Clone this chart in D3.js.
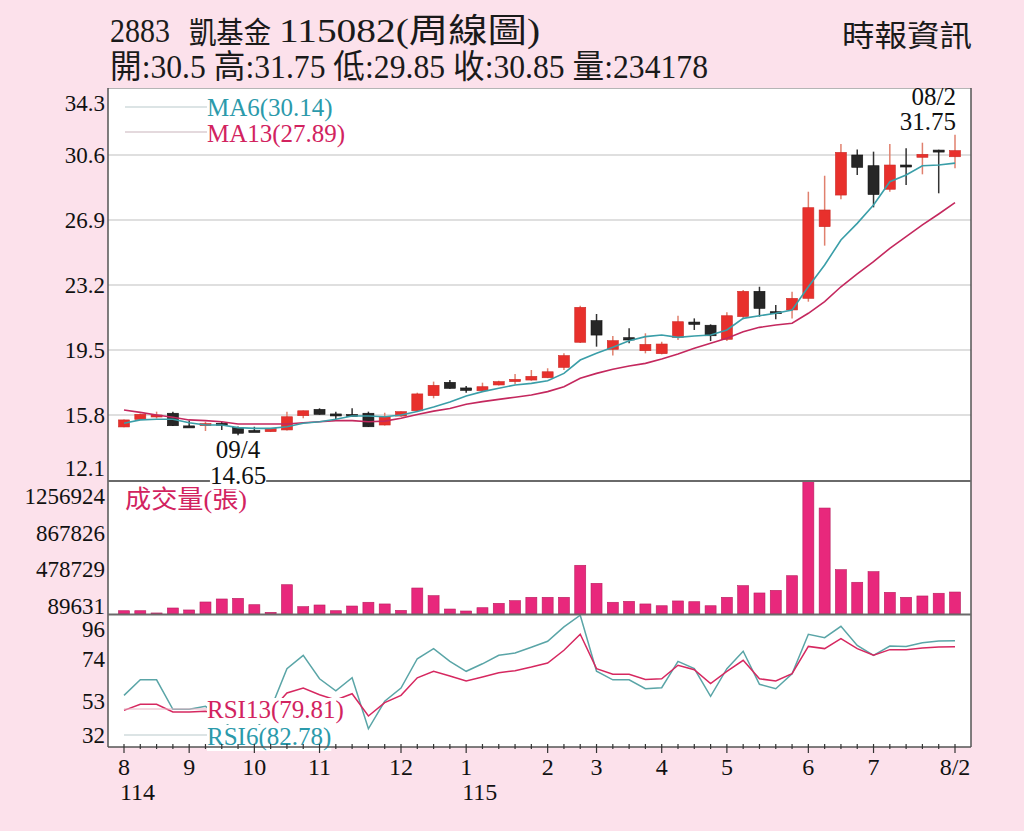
<!DOCTYPE html>
<html>
<head>
<meta charset="utf-8">
<script src="https://cdn.jsdelivr.net/npm/d3@7"></script>
<style>
  html, body { margin: 0; padding: 0; background: #fce1eb; }
  svg { display: block; }
</style>
</head>
<body>
<script>
// weekly candles, 114/08 .. 115/08/2
const open  = [15.12, 15.55, 15.76, 15.90, 15.18, 15.27, 15.33, 15.10, 14.92, 14.85,
               14.95, 15.76, 16.12, 15.86, 15.83, 15.90, 15.23, 15.74, 16.04, 16.90,
               17.66, 17.34, 17.18, 17.51, 17.70, 17.79, 17.92, 18.51, 19.94, 21.17,
               19.54, 20.20, 19.46, 19.29, 20.22, 21.09, 20.91, 20.11, 21.40, 22.84,
               21.68, 21.78, 22.44, 26.52, 28.32, 30.60, 29.99, 28.65, 30.03, 30.47,
               30.88, 30.50]
const high  = [15.55, 15.88, 15.99, 15.99, 15.48, 15.42, 15.42, 15.15, 15.13, 15.06,
               15.99, 16.06, 16.18, 15.99, 16.18, 15.99, 15.93, 16.00, 17.07, 17.70,
               17.79, 17.45, 17.64, 17.75, 18.13, 18.36, 18.46, 19.31, 22.02, 21.55,
               20.30, 20.74, 20.45, 19.97, 21.45, 21.30, 20.96, 21.65, 22.92, 23.10,
               22.06, 22.82, 28.51, 29.42, 31.23, 30.92, 30.79, 31.23, 30.98, 31.30,
               30.90, 31.75]
const low   = [15.10, 15.52, 15.60, 15.17, 15.15, 14.89, 14.95, 14.65, 14.86, 14.83,
               14.92, 15.61, 15.82, 15.56, 15.80, 15.12, 15.20, 15.70, 16.00, 16.75,
               17.30, 17.07, 17.15, 17.48, 17.55, 17.75, 17.90, 18.36, 19.90, 19.69,
               19.18, 19.88, 19.31, 19.25, 20.07, 20.64, 20.01, 20.01, 21.25, 21.40,
               21.25, 21.30, 22.25, 25.44, 28.08, 29.46, 27.62, 28.51, 28.89, 29.50,
               28.42, 29.85]
const close = [15.52, 15.84, 15.80, 15.19, 15.16, 15.31, 15.22, 14.76, 14.88, 15.04,
               15.70, 16.04, 15.84, 15.79, 15.81, 15.13, 15.70, 15.99, 17.00, 17.49,
               17.32, 17.20, 17.41, 17.70, 17.83, 18.00, 18.26, 19.18, 21.93, 20.35,
               20.03, 20.07, 19.82, 19.84, 21.11, 20.96, 20.31, 21.45, 22.84, 21.87,
               21.62, 22.44, 27.60, 27.47, 30.75, 29.90, 28.35, 30.03, 29.97, 30.64,
               30.85, 30.85]

const ma6  = [15.33, 15.52, 15.56, 15.56, 15.36, 15.23, 15.23, 15.08, 15.04, 15.04,
              15.13, 15.33, 15.42, 15.56, 15.74, 15.74, 15.70, 15.80, 16.00, 16.25,
              16.54, 16.88, 17.13, 17.32, 17.51, 17.60, 17.75, 18.17, 18.93, 19.31,
              19.65, 20.03, 20.26, 20.35, 20.22, 20.30, 20.35, 20.64, 21.30, 21.45,
              21.59, 21.78, 23.10, 24.34, 25.76, 26.71, 27.75, 29.08, 29.46, 29.99,
              30.03, 30.14]
const ma13 = [16.08, 15.95, 15.80, 15.67, 15.52, 15.48, 15.42, 15.29, 15.29, 15.29,
              15.29, 15.36, 15.42, 15.48, 15.48, 15.42, 15.45, 15.61, 15.83, 16.02,
              16.17, 16.41, 16.56, 16.69, 16.81, 16.94, 17.13, 17.41, 17.89, 18.17,
              18.40, 18.59, 18.74, 18.99, 19.27, 19.60, 19.88, 20.17, 20.54, 20.79,
              20.92, 21.02, 21.59, 22.25, 23.10, 23.83, 24.53, 25.29, 25.95, 26.62,
              27.24, 27.89]

const volume = [35000, 35000, 11000, 64000, 43000, 128000, 160000, 167000, 99000, 18000,
                312000, 78000, 96000, 35000, 85000, 125000, 107000, 39000, 277000, 195000,
                53000, 32000, 67000, 114000, 142000, 178000, 178000, 178000, 519000, 327000,
                125000, 135000, 107000, 88000, 139000, 131000, 88000, 178000, 302000, 224000,
                252000, 408000, 1417000, 1129000, 472000, 338000, 451000, 231000, 178000, 192000,
                221000, 234178]

const rsi6  = [55.8, 63.5, 63.5, 48.9, 48.9, 50.4, 45.0, 35.0, 38.0, 49.0,
               69.0, 75.6, 64.0, 58.0, 64.5, 39.3, 52.9, 59.4, 73.9, 78.9,
               72.6, 67.7, 71.4, 75.6, 76.7, 79.6, 82.5, 89.6, 95.4, 67.7,
               63.5, 63.5, 59.1, 59.6, 72.6, 69.0, 55.3, 69.0, 77.6, 61.3,
               59.1, 66.5, 86.0, 84.3, 89.9, 80.5, 75.6, 80.2, 80.0, 81.8,
               82.7, 82.78]
const rsi13 = [48.4, 51.4, 51.4, 47.6, 47.6, 47.9, 46.0, 42.0, 43.0, 48.0,
               57.0, 59.4, 56.1, 53.5, 56.6, 45.6, 52.2, 55.8, 64.5, 67.7,
               65.4, 62.9, 64.9, 67.0, 68.0, 69.8, 71.8, 78.1, 86.0, 69.0,
               66.2, 66.2, 63.7, 64.0, 70.7, 68.5, 61.6, 67.7, 73.1, 64.0,
               62.9, 66.5, 80.0, 78.9, 83.8, 78.9, 75.6, 78.4, 78.4, 79.2,
               79.7, 79.81]

const priceTicks = [34.3, 30.6, 26.9, 23.2, 19.5, 15.8, 12.1]
const volTicks = [1256924, 867826, 478729, 89631]
const rsiTicks = [96, 74, 53, 32]

const monthLabels = ["8", "9", "10", "11", "12", "1", "2", "3", "4", "5", "6", "7", "8/2"]
const monthIndex  = [0, 4, 8, 12, 17, 21, 26, 29, 33, 37, 42, 46, 51]
const yearLabels = ["114", "115"]
const yearIndex  = [0, 21]

const W = 1024, H = 831
const pLeft = 108, pRight = 971, pTop = 88
const priceBottom = 481, volBottom = 614, pBottom = 747
const font = "'Liberation Serif','Noto Sans CJK TC',serif"

const x = d3.scaleLinear().domain([0, 51]).range([124, 955])
const yPrice = d3.scaleLinear().domain([12.1, 34.3]).range([480, 90])
const yVol = d3.scaleLinear().domain([0, 1417000]).range([volBottom, priceBottom])
const yRsi = d3.scaleLinear().domain([30.3, 96]).range([pBottom, volBottom])

const svg = d3.select("body").append("svg")
    .attr("width", W)
    .attr("height", H)
    .attr("xmlns", "http://www.w3.org/2000/svg")

svg.append("rect").attr("width", W).attr("height", H).attr("fill", "#fce1eb")
svg.append("rect")
    .attr("x", pLeft).attr("y", pTop)
    .attr("width", pRight - pLeft).attr("height", pBottom - pTop)
    .attr("fill", "#fff")

// header
const head = svg.append("g").attr("font-family", font).attr("fill", "#1a1a1a")
head.append("text").attr("x", 110).attr("y", 42).attr("font-size", 33)
    .attr("textLength", 60).attr("lengthAdjust", "spacingAndGlyphs").text("2883")
head.append("text").attr("x", 189).attr("y", 43).attr("font-size", 30)
    .attr("textLength", 82).attr("lengthAdjust", "spacingAndGlyphs").text("凱基金")
head.append("text").attr("x", 279).attr("y", 42).attr("font-size", 33)
    .attr("textLength", 261).attr("lengthAdjust", "spacingAndGlyphs").text("115082(周線圖)")
head.append("text").attr("x", 110).attr("y", 78).attr("font-size", 33)
    .attr("textLength", 598).attr("lengthAdjust", "spacingAndGlyphs")
    .text("開:30.5 高:31.75 低:29.85 收:30.85 量:234178")
head.append("text").attr("x", 842).attr("y", 46).attr("font-size", 30)
    .attr("textLength", 130).attr("lengthAdjust", "spacingAndGlyphs").text("時報資訊")

// price gridlines
svg.append("g").selectAll("line")
    .data(priceTicks.slice(1, -1))
    .join("line")
    .attr("x1", pLeft).attr("x2", pRight)
    .attr("y1", d => yPrice(d)).attr("y2", d => yPrice(d))
    .attr("stroke", "#d4d4d4").attr("stroke-width", 1.5)

// axis labels, clamped inside each panel
function yLabels(ticks, scale, lo, hi) {
    svg.append("g")
        .attr("font-family", font).attr("font-size", 23)
        .attr("text-anchor", "end").attr("fill", "#111")
        .selectAll("text").data(ticks).join("text")
        .attr("x", 105)
        .attr("y", d => Math.max(lo, Math.min(hi, scale(d))))
        .attr("dy", "0.35em")
        .text(d => d)
}
yLabels(priceTicks, yPrice, 103, 468)
yLabels(volTicks, yVol, 494, 606)
yLabels(rsiTicks, yRsi, 629, 735)

// volume
svg.append("g").selectAll("rect")
    .data(volume)
    .join("rect")
    .attr("x", (d, i) => x(i) - 5.5)
    .attr("width", 11)
    .attr("y", d => yVol(d))
    .attr("height", d => yVol(0) - yVol(d))
    .attr("fill", "#e8287c")
    .attr("stroke", "#b81e5e")
    .attr("stroke-width", 0.6)

svg.append("text")
    .attr("x", 125).attr("y", 508)
    .attr("font-family", font).attr("font-size", 25)
    .attr("textLength", 122).attr("lengthAdjust", "spacingAndGlyphs")
    .attr("fill", "#d2235f")
    .text("成交量(張)")

// candles
const candles = open.map((o, i) => ({ i, o, h: high[i], l: low[i], c: close[i] }))
const isUp = d => d.c >= d.o

const cg = svg.append("g").selectAll("g").data(candles).join("g")
cg.append("line")
    .attr("x1", d => x(d.i)).attr("x2", d => x(d.i))
    .attr("y1", d => yPrice(d.h)).attr("y2", d => yPrice(d.l))
    .attr("stroke", d => isUp(d) ? "#e0806e" : "#333")
    .attr("stroke-width", 1.5)
cg.append("rect")
    .attr("x", d => x(d.i) - 5.5)
    .attr("width", 11)
    .attr("y", d => yPrice(Math.max(d.o, d.c)))
    .attr("height", d => Math.max(2, Math.abs(yPrice(d.o) - yPrice(d.c))))
    .attr("fill", d => isUp(d) ? "#e8302c" : "#262626")
    .attr("stroke", d => isUp(d) ? "#cc2a26" : "#111")
    .attr("stroke-width", 0.6)

const seriesLine = scale => d3.line().x((d, i) => x(i)).y(d => scale(d))

svg.append("path").datum(ma13)
    .attr("d", seriesLine(yPrice))
    .attr("fill", "none").attr("stroke", "#c4285e").attr("stroke-width", 1.6)
svg.append("path").datum(ma6)
    .attr("d", seriesLine(yPrice))
    .attr("fill", "none").attr("stroke", "#3a9ea8").attr("stroke-width", 1.6)

// MA legend
svg.append("line").attr("x1", 125).attr("x2", 207).attr("y1", 107).attr("y2", 107)
    .attr("stroke", "#b9c9cb").attr("stroke-width", 1.2)
svg.append("line").attr("x1", 125).attr("x2", 207).attr("y1", 132).attr("y2", 132)
    .attr("stroke", "#c9b3bb").attr("stroke-width", 1.2)
svg.append("text").attr("x", 207).attr("y", 116)
    .attr("font-family", font).attr("font-size", 25).attr("fill", "#2b9aab")
    .text("MA6(30.14)")
svg.append("text").attr("x", 207).attr("y", 142)
    .attr("font-family", font).attr("font-size", 25).attr("fill", "#d2235f")
    .text("MA13(27.89)")

// RSI
svg.append("path").datum(rsi6)
    .attr("d", seriesLine(yRsi))
    .attr("fill", "none").attr("stroke", "#5aa5a7").attr("stroke-width", 1.5)
svg.append("path").datum(rsi13)
    .attr("d", seriesLine(yRsi))
    .attr("fill", "none").attr("stroke", "#d62860").attr("stroke-width", 1.5)

function boxedText(txt, tx, ty, size, color, anchor) {
    const g = svg.append("g")
    const t = g.append("text")
        .attr("x", tx).attr("y", ty)
        .attr("font-family", font).attr("font-size", size)
        .attr("text-anchor", anchor || "start")
        .attr("fill", color)
        .text(txt)
    const b = t.node().getBBox()
    g.insert("rect", "text")
        .attr("x", b.x).attr("y", b.y + 2)
        .attr("width", b.width).attr("height", b.height - 2)
        .attr("fill", "#fff")
    return g
}

svg.append("line").attr("x1", 124).attr("x2", 207).attr("y1", 709).attr("y2", 709)
    .attr("stroke", "#e7b3c3").attr("stroke-width", 1.2)
svg.append("line").attr("x1", 124).attr("x2", 207).attr("y1", 735).attr("y2", 735)
    .attr("stroke", "#b9c9cb").attr("stroke-width", 1.2)
boxedText("RSI13(79.81)", 207, 718, 25, "#d2235f")
boxedText("RSI6(82.78)", 207, 745, 25, "#2b9aab")

// frame and separators
const frame = svg.append("g").attr("fill", "none")
frame.append("line").attr("x1", pLeft).attr("x2", pRight).attr("y1", pTop + 0.5).attr("y2", pTop + 0.5)
    .attr("stroke", "#b5b5b5")
frame.append("line").attr("x1", pLeft).attr("x2", pLeft).attr("y1", pTop).attr("y2", pBottom)
    .attr("stroke", "#555").attr("stroke-width", 1.5)
frame.append("line").attr("x1", pRight).attr("x2", pRight).attr("y1", pTop).attr("y2", pBottom)
    .attr("stroke", "#555").attr("stroke-width", 1.5)
frame.append("line").attr("x1", pLeft).attr("x2", pRight).attr("y1", pBottom).attr("y2", pBottom)
    .attr("stroke", "#555").attr("stroke-width", 1.5)
frame.selectAll(".sep").data([priceBottom, volBottom + 0.5]).join("line")
    .attr("x1", pLeft).attr("x2", pRight)
    .attr("y1", d => d).attr("y2", d => d)
    .attr("stroke", "#6a6a6a").attr("stroke-width", 1.8)

// x ticks and labels
svg.append("g").selectAll("line")
    .data(d3.range(close.length))
    .join("line")
    .attr("x1", i => x(i)).attr("x2", i => x(i))
    .attr("y1", pBottom - 3)
    .attr("y2", i => monthIndex.includes(i) ? pBottom + 6 : pBottom + 2)
    .attr("stroke", "#333").attr("stroke-width", 1.2)

svg.append("g")
    .attr("font-family", font).attr("font-size", 24)
    .attr("text-anchor", "middle").attr("fill", "#111")
    .selectAll("text").data(monthLabels).join("text")
    .attr("x", (d, i) => x(monthIndex[i]))
    .attr("y", 775)
    .text(d => d)

svg.append("g")
    .attr("font-family", font).attr("font-size", 24).attr("fill", "#111")
    .selectAll("text").data(yearLabels).join("text")
    .attr("x", (d, i) => x(yearIndex[i]) - 4)
    .attr("y", 800)
    .text(d => d)

// high / low annotations
const lowIdx = low.indexOf(d3.min(low))
const highIdx = high.indexOf(d3.max(high))
boxedText("09/4", x(lowIdx), 458, 25, "#111", "middle")
boxedText(d3.min(low).toFixed(2), x(lowIdx), 484, 25, "#111", "middle")
svg.append("text").attr("x", x(highIdx) + 1).attr("y", 105)
    .attr("font-family", font).attr("font-size", 25).attr("text-anchor", "end")
    .attr("fill", "#111").text("08/2")
svg.append("text").attr("x", x(highIdx) + 1).attr("y", 130)
    .attr("font-family", font).attr("font-size", 25).attr("text-anchor", "end")
    .attr("fill", "#111").text(d3.max(high).toFixed(2))
</script>
</body>
</html>
